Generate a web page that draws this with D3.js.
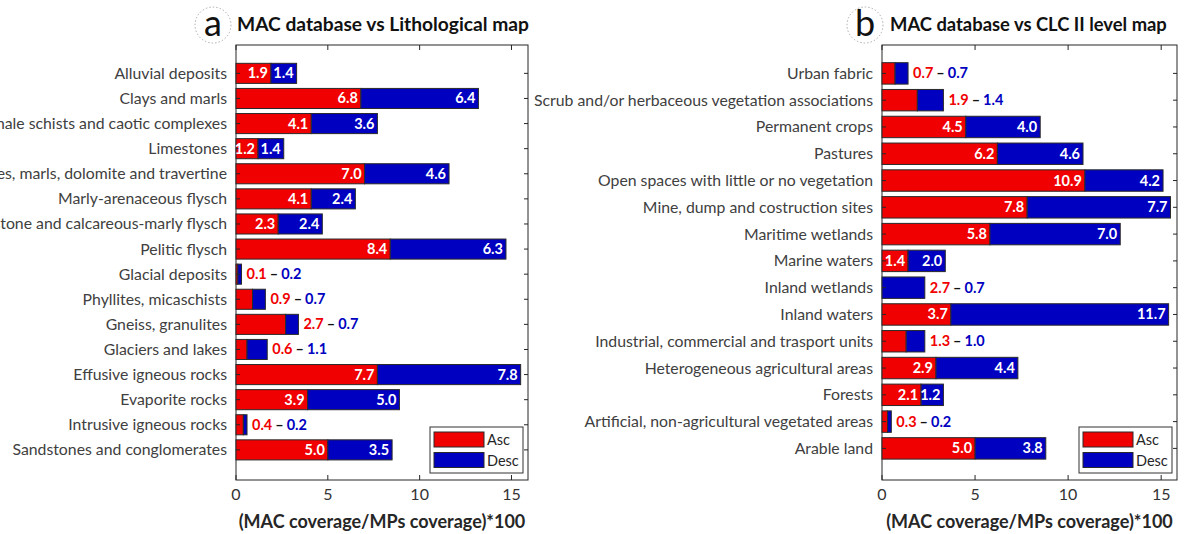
<!DOCTYPE html>
<html><head><meta charset="utf-8">
<script src="https://cdn.jsdelivr.net/npm/d3@7"></script>
<style>html,body{margin:0;padding:0;background:#fff;}svg{display:block;}</style>
</head><body>
<svg id="chart" width="1186" height="534"></svg>
<script>
// ---------- DATA ----------
const catsA = ["Alluvial deposits","Clays and marls","Shale schists and caotic complexes","Limestones",
  "Limestones, marls, dolomite and travertine","Marly-arenaceous flysch","Sandstone and calcareous-marly flysch",
  "Pelitic flysch","Glacial deposits","Phyllites, micaschists","Gneiss, granulites","Glaciers and lakes",
  "Effusive igneous rocks","Evaporite rocks","Intrusive igneous rocks","Sandstones and conglomerates"];
const ascA  = [1.9,6.8,4.1,1.2,7.0,4.1,2.3,8.4,0.1,0.9,2.7,0.6,7.7,3.9,0.4,5.0];
const descA = [1.4,6.4,3.6,1.4,4.6,2.4,2.4,6.3,0.2,0.7,0.7,1.1,7.8,5.0,0.2,3.5];
const outsideA = ["Glacial deposits","Phyllites, micaschists","Gneiss, granulites","Glaciers and lakes","Intrusive igneous rocks"];

const catsB = ["Urban fabric","Scrub and/or herbaceous vegetation associations","Permanent crops","Pastures",
  "Open spaces with little or no vegetation","Mine, dump and costruction sites","Maritime wetlands","Marine waters",
  "Inland wetlands","Inland waters","Industrial, commercial and trasport units","Heterogeneous agricultural areas",
  "Forests","Artificial, non-agricultural vegetated areas","Arable land"];
// values printed as labels
const ascB  = [0.7,1.9,4.5,6.2,10.9,7.8,5.8,1.4,2.7,3.7,1.3,2.9,2.1,0.3,5.0];
const descB = [0.7,1.4,4.0,4.6,4.2,7.7,7.0,2.0,0.7,11.7,1.0,4.4,1.2,0.2,3.8];
// bar lengths as drawn (Inland wetlands bar is drawn all blue in the original)
const ascBarB  = [0.7,1.9,4.5,6.2,10.9,7.8,5.8,1.4,0.0,3.7,1.3,2.9,2.1,0.3,5.0];
const descBarB = [0.7,1.4,4.0,4.6,4.2,7.7,7.0,2.0,2.3,11.7,1.0,4.4,1.2,0.2,3.8];
const outsideB = ["Urban fabric","Scrub and/or herbaceous vegetation associations","Inland wetlands",
  "Industrial, commercial and trasport units","Artificial, non-agricultural vegetated areas"];

const xTicks = [0,5,10,15];
const seriesNames = ["Asc","Desc"];
const titleA = "MAC database vs Lithological map";
const titleB = "MAC database vs CLC II level map";
const xLabel = "(MAC coverage/MPs coverage)*100";

// ---------- STYLE ----------
const RED = "#f00000", BLUE = "#0000c0", EDGE = "#2a2a2a";
const FONT = "Lato, 'Open Sans', sans-serif";
const svg = d3.select("#chart");

function panel(o){
  const g = svg.append("g");
  const x = d3.scaleLinear().domain([0, o.xmax]).range([o.x0, o.x1]);
  const y = d3.scaleLinear().domain(o.ydom).range([45, 480]);
  const step = Math.abs(y(2) - y(1));
  const bh = step * 0.8;

  g.append("rect").attr("x", o.x0).attr("y", 45).attr("width", o.x1 - o.x0).attr("height", 435)
    .attr("fill", "#fff").attr("stroke", "#262626").attr("stroke-width", 1);

  const tk = g.append("g").attr("stroke", "#262626").attr("stroke-width", 1);
  xTicks.forEach(t => {
    tk.append("line").attr("x1", x(t)).attr("x2", x(t)).attr("y1", 480).attr("y2", 475);
    tk.append("line").attr("x1", x(t)).attr("x2", x(t)).attr("y1", 45).attr("y2", 50);
  });
  o.cats.forEach((c, i) => {
    tk.append("line").attr("x1", o.x1).attr("x2", o.x1 - 4).attr("y1", y(i + 1)).attr("y2", y(i + 1));
  });

  const bars = g.append("g");
  o.cats.forEach((c, i) => {
    const a = o.ascBar[i], d = o.descBar[i];
    const yy = y(i + 1) - bh / 2;
    if (a > 0) bars.append("rect").attr("x", x(0)).attr("y", yy).attr("width", x(a) - x(0)).attr("height", bh)
      .attr("fill", RED).attr("stroke", EDGE).attr("stroke-width", 1);
    if (d > 0) bars.append("rect").attr("x", x(a)).attr("y", yy).attr("width", x(a + d) - x(a)).attr("height", bh)
      .attr("fill", BLUE).attr("stroke", EDGE).attr("stroke-width", 1);
  });
  o.cats.forEach((c, i) => {
    g.append("line").attr("x1", o.x0).attr("x2", o.x0 + 4).attr("y1", y(i + 1)).attr("y2", y(i + 1))
      .attr("stroke", "#262626").attr("stroke-width", 1);
  });

  const lab = g.append("g").attr("font-family", FONT).attr("font-weight", "bold").attr("font-size", 14.5);
  o.cats.forEach((c, i) => {
    const a = o.ascBar[i], d = o.descBar[i];
    const cy = y(i + 1) + 5;
    if (o.outside.includes(c)) {
      const t = lab.append("text").attr("x", x(a + d) + 5).attr("y", cy);
      t.append("tspan").attr("fill", RED).text(o.ascLab[i].toFixed(1));
      t.append("tspan").attr("fill", "#111").attr("dx", 3).text("–");
      t.append("tspan").attr("fill", BLUE).attr("dx", 3).text(o.descLab[i].toFixed(1));
    } else {
      lab.append("text").attr("x", x(a) - 3).attr("y", cy).attr("text-anchor", "end").attr("fill", "#fff")
        .text(o.ascLab[i].toFixed(1));
      lab.append("text").attr("x", x(a + d) - 3).attr("y", cy).attr("text-anchor", "end").attr("fill", "#fff")
        .text(o.descLab[i].toFixed(1));
    }
  });

  const cl = g.append("g").attr("font-family", FONT).attr("font-size", 15.8).attr("fill", "#404040");
  o.cats.forEach((c, i) => {
    cl.append("text").attr("x", o.x0 - 9).attr("y", y(i + 1) + 5.5).attr("text-anchor", "end").text(c);
  });

  const xl = g.append("g").attr("font-family", FONT).attr("font-size", 16).attr("fill", "#333");
  xTicks.forEach(t => {
    xl.append("text").attr("x", x(t)).attr("y", 500).attr("text-anchor", "middle").text(t);
  });
  g.append("text").attr("x", (o.x0 + o.x1) / 2).attr("y", 528).attr("text-anchor", "middle")
    .attr("font-family", FONT).attr("font-weight", "bold").attr("font-size", 18).attr("fill", "#262626")
    .text(xLabel);

  g.append("text").attr("x", o.titleX).attr("y", 31).attr("font-family", FONT).attr("font-weight", "bold")
    .attr("font-size", o.titleSize).attr("fill", "#111").text(o.title);
  g.append("circle").attr("cx", o.letterX).attr("cy", 25).attr("r", 18).attr("fill", "#fff")
    .attr("stroke", "#999").attr("stroke-width", 0.8).attr("stroke-dasharray", "1.5,2");
  g.append("text").attr("x", o.letterX).attr("y", 36).attr("text-anchor", "middle").attr("font-family", FONT)
    .attr("font-size", 36).attr("fill", "#111").text(o.letter);

  const lx = o.x1 - 98, ly = 427;
  const lg = g.append("g");
  lg.append("rect").attr("x", lx).attr("y", ly).attr("width", 93).attr("height", 46)
    .attr("fill", "#fff").attr("stroke", "#333").attr("stroke-width", 1);
  [RED, BLUE].forEach((col, k) => {
    lg.append("rect").attr("x", lx + 4).attr("y", ly + 5 + k * 20.5).attr("width", 50).attr("height", 15)
      .attr("fill", col).attr("stroke", EDGE).attr("stroke-width", 1);
    lg.append("text").attr("x", lx + 57).attr("y", ly + 18 + k * 20.5).attr("font-family", FONT)
      .attr("font-size", 14.5).attr("fill", "#262626").text(seriesNames[k]);
  });
}

panel({cats: catsA, ascBar: ascA, descBar: descA, ascLab: ascA, descLab: descA, outside: outsideA,
  x0: 236, x1: 528, xmax: 15.9, ydom: [-0.13, 17.2], title: titleA, titleSize: 19.2, titleX: 237, letter: "a", letterX: 213});
panel({cats: catsB, ascBar: ascBarB, descBar: descBarB, ascLab: ascB, descLab: descB, outside: outsideB,
  x0: 882, x1: 1177, xmax: 15.85, ydom: [-0.06, 16.18], title: titleB, titleSize: 18.4, titleX: 890, letter: "b", letterX: 865});
</script>
</body></html>
